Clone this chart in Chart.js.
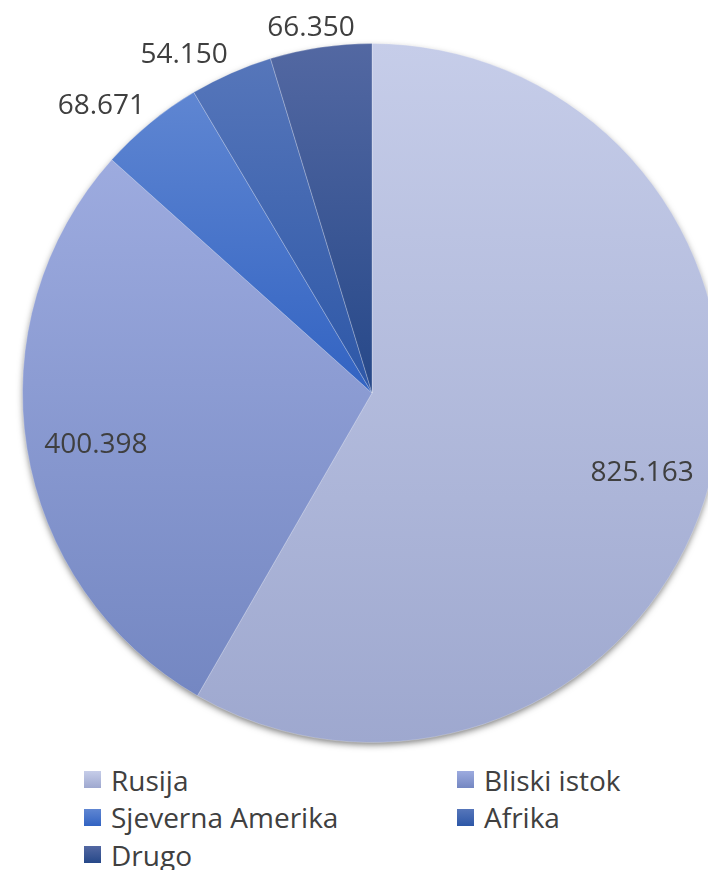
<!DOCTYPE html>
<html>
<head>
<meta charset="utf-8">
<script src="https://cdn.jsdelivr.net/npm/chart.js@4"></script>
<style>
  html, body { margin: 0; padding: 0; background: #fff; overflow: hidden; }
  #wrap { position: relative; width: 708px; height: 870px; overflow: hidden; }
  #pie { position: absolute; left: 0; top: 0; }
  #legend {
    position: absolute; left: 84px; top: 761px;
    display: grid; grid-template-columns: 373px 240px;
    font-family: "Open Sans", sans-serif; font-size: 28px; color: #404040;
  }
  .item { display: flex; align-items: center; height: 37.5px; white-space: nowrap; }
  .box { width: 17px; height: 17px; margin-right: 10px; }
</style>
</head>
<body>
<div id="wrap">
  <canvas id="pie" width="744" height="760"></canvas>
  <div id="legend"></div>
</div>
<script>
const labels = ["Rusija", "Bliski istok", "Sjeverna Amerika", "Afrika", "Drugo"];
const values = [825163, 400398, 68671, 54150, 66350];

// gradient colours, top and bottom of each slice
const topColors = ["#c6cde9", "#9dabdf", "#5f86d2", "#5676ba", "#5368a2"];
const bottomColors = ["#9ea8cf", "#7487c2", "#3263c2", "#2d57a7", "#264889"];

const total = values.reduce((a, b) => a + b, 0);

function fmt(v) {
  return String(v).replace(/\B(?=(\d{3})+(?!\d))/g, ".");
}

// vertical extent of a slice, used for its gradient
function sliceRange(i, area) {
  const cx = (area.left + area.right) / 2;
  const cy = (area.top + area.bottom) / 2;
  const r = Math.min(area.right - area.left, area.bottom - area.top) / 2;
  let before = 0;
  for (let k = 0; k < i; k++) before += values[k];
  const a0 = -Math.PI / 2 + 2 * Math.PI * before / total;
  const a1 = a0 + 2 * Math.PI * values[i] / total;
  const ys = [cy, cy + r * Math.sin(a0), cy + r * Math.sin(a1)];
  [-Math.PI / 2, Math.PI / 2, 3 * Math.PI / 2].forEach(a => {
    if (a >= a0 - 1e-6 && a <= a1 + 1e-6) ys.push(cy + r * Math.sin(a));
  });
  return [Math.min(...ys), Math.max(...ys)];
}

function sliceFill(context) {
  const chart = context.chart;
  const area = chart.chartArea;
  const i = context.dataIndex;
  if (!area) return topColors[i];
  const [y0, y1] = sliceRange(i, area);
  const g = chart.ctx.createLinearGradient(0, y0, 0, y1);
  g.addColorStop(0, topColors[i]);
  g.addColorStop(1, bottomColors[i]);
  return g;
}

// soft shadow under the pie
const shadowPlugin = {
  id: "pieShadow",
  beforeDatasetsDraw(chart) {
    const arc = chart.getDatasetMeta(0).data[0];
    if (!arc) return;
    const ctx = chart.ctx;
    ctx.save();
    ctx.shadowColor = "rgba(0,0,0,0.55)";
    ctx.shadowBlur = 7;
    ctx.shadowOffsetY = 3;
    ctx.fillStyle = "#9ea8cf";
    ctx.beginPath();
    ctx.arc(arc.x, arc.y, arc.outerRadius - 1, 0, Math.PI * 2);
    ctx.fill();
    ctx.restore();
  }
};

// value labels: big slices inside, small ones outside the rim
const valueLabels = {
  id: "valueLabels",
  afterDatasetsDraw(chart) {
    const ctx = chart.ctx;
    ctx.save();
    ctx.font = '28px "Open Sans", sans-serif';
    ctx.fillStyle = "#3f3f3f";
    ctx.textAlign = "center";
    ctx.textBaseline = "middle";
    chart.getDatasetMeta(0).data.forEach((arc, i) => {
      const p = arc.getProps(["x", "y", "startAngle", "endAngle", "outerRadius"], true);
      const mid = (p.startAngle + p.endAngle) / 2;
      const dx = Math.cos(mid), dy = Math.sin(mid);
      const text = fmt(values[i]);
      let x, y;
      if (values[i] / total > 0.1) {
        x = p.x + dx * p.outerRadius * 0.8;
        y = p.y + dy * p.outerRadius * 0.81 + 6;
      } else {
        const w = ctx.measureText(text).width;
        const h = 24;
        const d = p.outerRadius + 8;
        const cl = v => Math.sign(v) * Math.min(1, Math.pow(Math.abs(v) * 3, 2));
        x = p.x + dx * d + cl(dx) * w / 2;
        y = p.y + dy * d + cl(dy) * h / 2;
      }
      ctx.fillText(text, x, y + 1);
    });
    ctx.restore();
  }
};

new Chart(document.getElementById("pie"), {
  type: "pie",
  data: {
    labels: labels,
    datasets: [{
      data: values,
      backgroundColor: sliceFill,
      borderColor: "rgba(255,255,255,0.25)",
      borderWidth: 1
    }]
  },
  options: {
    responsive: false,
    animation: false,
    layout: { padding: { left: 22, right: 22, top: 43, bottom: 17 } },
    plugins: {
      legend: { display: false },
      tooltip: { enabled: false }
    }
  },
  plugins: [shadowPlugin, valueLabels]
});

// legend in two columns
const legend = document.getElementById("legend");
labels.forEach((name, i) => {
  const item = document.createElement("div");
  item.className = "item";
  const box = document.createElement("span");
  box.className = "box";
  box.style.background = `linear-gradient(${topColors[i]}, ${bottomColors[i]})`;
  item.appendChild(box);
  item.appendChild(document.createTextNode(name));
  legend.appendChild(item);
});
</script>
</body>
</html>
